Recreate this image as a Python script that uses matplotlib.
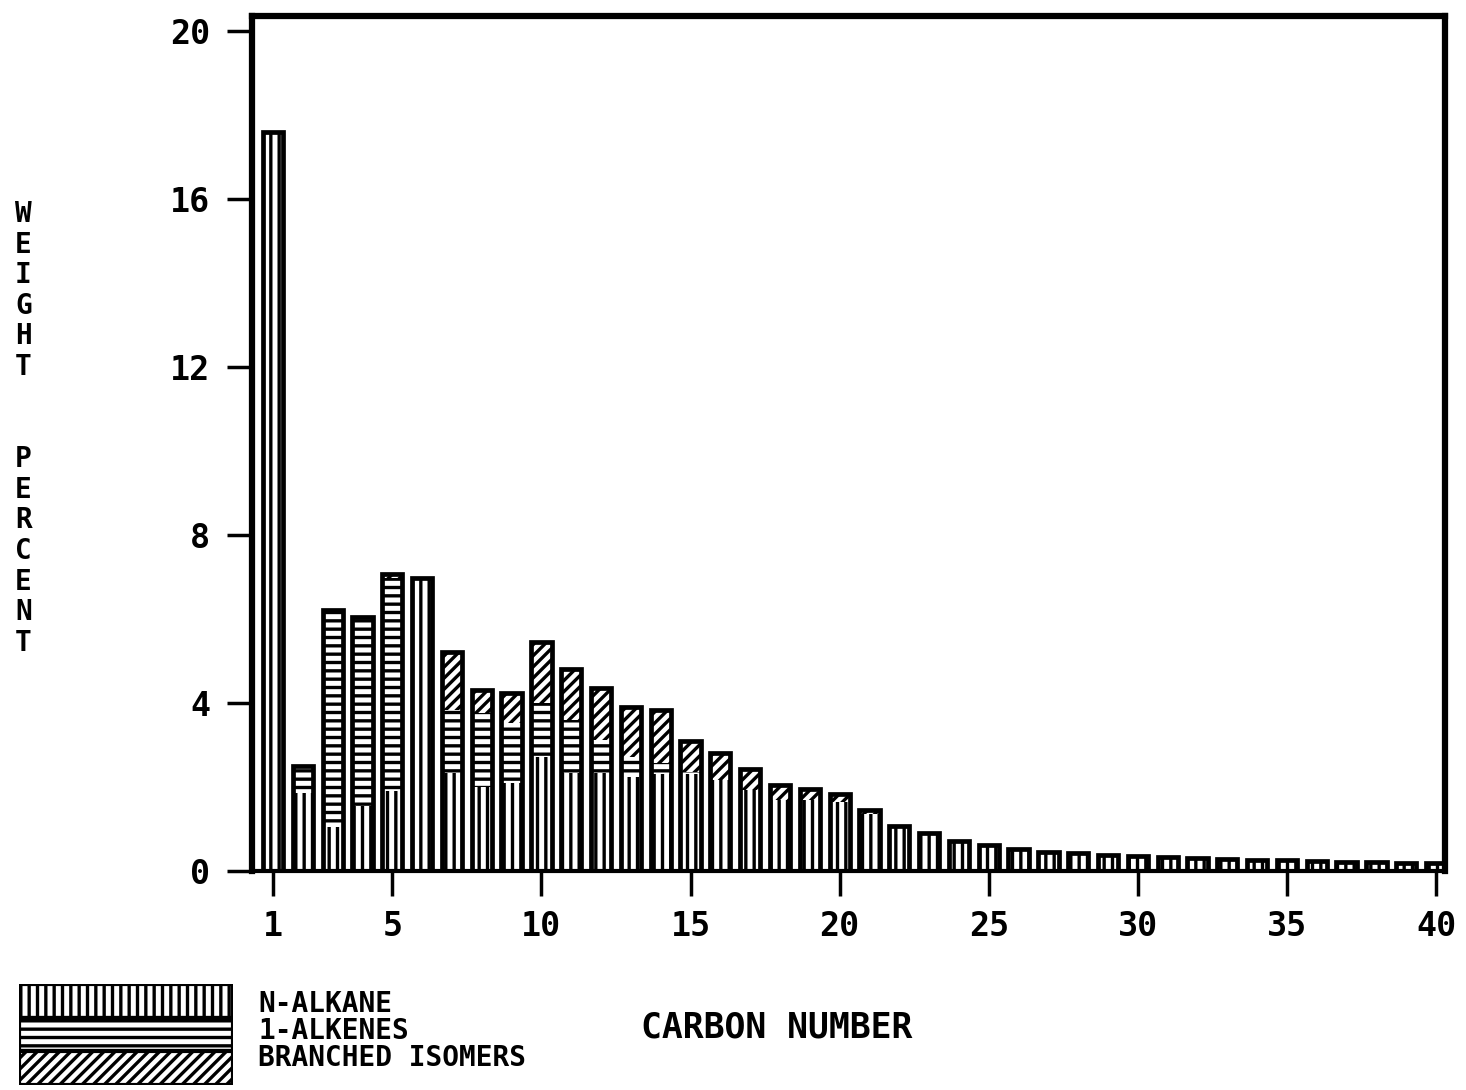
import matplotlib
matplotlib.use("Agg")
from matplotlib import pyplot as plt
from matplotlib.patches import Rectangle
import numpy as np

# carbon numbers 1..40
carbon = list(range(1, 41))

# weight percent per component, stacked alkane -> alkene -> branched
n_alkane = [17.6, 1.85, 1.05, 1.55, 1.9, 6.98, 2.33, 2.0, 2.1, 2.7,
            2.33, 2.33, 2.24, 2.3, 2.3, 2.17, 1.93, 1.69, 1.69, 1.65,
            1.35, 1.07, 0.9, 0.72, 0.62, 0.52, 0.45, 0.42, 0.38, 0.36,
            0.33, 0.3, 0.28, 0.27, 0.25, 0.24, 0.22, 0.21, 0.2, 0.19]
alkenes = [0.0, 0.65, 5.15, 4.5, 5.07, 0.0, 1.5, 1.76, 1.42, 1.3,
           1.27, 0.79, 0.46, 0.27, 0.05, 0.0, 0.0, 0.0, 0.0, 0.0,
           0.0, 0.0, 0.0, 0.0, 0.0, 0.0, 0.0, 0.0, 0.0, 0.0,
           0.0, 0.0, 0.0, 0.0, 0.0, 0.0, 0.0, 0.0, 0.0, 0.0]
branched = [0.0, 0.0, 0.0, 0.0, 0.1, 0.0, 1.37, 0.54, 0.72, 1.45,
            1.2, 1.23, 1.2, 1.25, 0.75, 0.63, 0.5, 0.36, 0.26, 0.18,
            0.1, 0.0, 0.0, 0.0, 0.0, 0.0, 0.0, 0.0, 0.0, 0.0,
            0.0, 0.0, 0.0, 0.0, 0.0, 0.0, 0.0, 0.0, 0.0, 0.0]

yticks = [0, 4, 8, 12, 16, 20]
xticks = [1, 5, 10, 15, 20, 25, 30, 35, 40]

legend_labels = ['N-ALKANE', '1-ALKENES', 'BRANCHED ISOMERS']
hatches = ['||', '--', '///']

plt.rcParams['font.family'] = 'DejaVu Sans Mono'
plt.rcParams['font.weight'] = 'bold'
plt.rcParams['hatch.linewidth'] = 2.4

fig = plt.figure(figsize=(14.66, 10.9), dpi=100)
ax = fig.add_axes([0.172, 0.201, 0.8137, 0.7843])

a = np.array(n_alkane)
b = np.array(alkenes)
c = np.array(branched)
w = 0.68

# hatched segments without outline, then one thick outline per bar
ax.bar(carbon, a, width=w, color='white', edgecolor='black', hatch=hatches[0], linewidth=0)
ax.bar(carbon, b, width=w, bottom=a, color='white', edgecolor='black', hatch=hatches[1], linewidth=0)
ax.bar(carbon, c, width=w, bottom=a + b, color='white', edgecolor='black', hatch=hatches[2], linewidth=0)
ax.bar(carbon, a + b + c, width=w, fill=False, edgecolor='black', linewidth=3.4)

ax.set_xlim(0.3, 40.3)
ax.set_ylim(0, 20.35)
ax.set_xticks(xticks)
ax.set_yticks(yticks)
ax.tick_params(axis='both', direction='out', length=18, width=2.5, labelsize=24)
ax.tick_params(axis='y', pad=12)
ax.tick_params(axis='x', pad=10)
for side in ['left', 'top', 'right']:
    ax.spines[side].set_linewidth(4.5)
ax.spines['bottom'].set_linewidth(3)

# stacked vertical y label
fig.text(0.016, 0.607, '\n'.join('WEIGHT  PERCENT'), ha='center', va='center',
         fontsize=20, linespacing=1.12)
fig.text(0.53, 0.057, 'CARBON NUMBER', ha='center', va='center', fontsize=25)

# legend box in the lower left
lax = fig.add_axes([0.013, 0.005, 0.146, 0.092])
lax.set_xlim(0, 1)
lax.set_ylim(0, 3)
lax.axis('off')
for i, h in enumerate(hatches):
    lax.add_patch(Rectangle((0, 2 - i), 1, 1, facecolor='white', edgecolor='black',
                            hatch=h, linewidth=3))
for i, lab in enumerate(legend_labels):
    fig.text(0.176, 0.079 - i * 0.025, lab, ha='left', va='center', fontsize=20)

fig.savefig('out.png', dpi=100)
